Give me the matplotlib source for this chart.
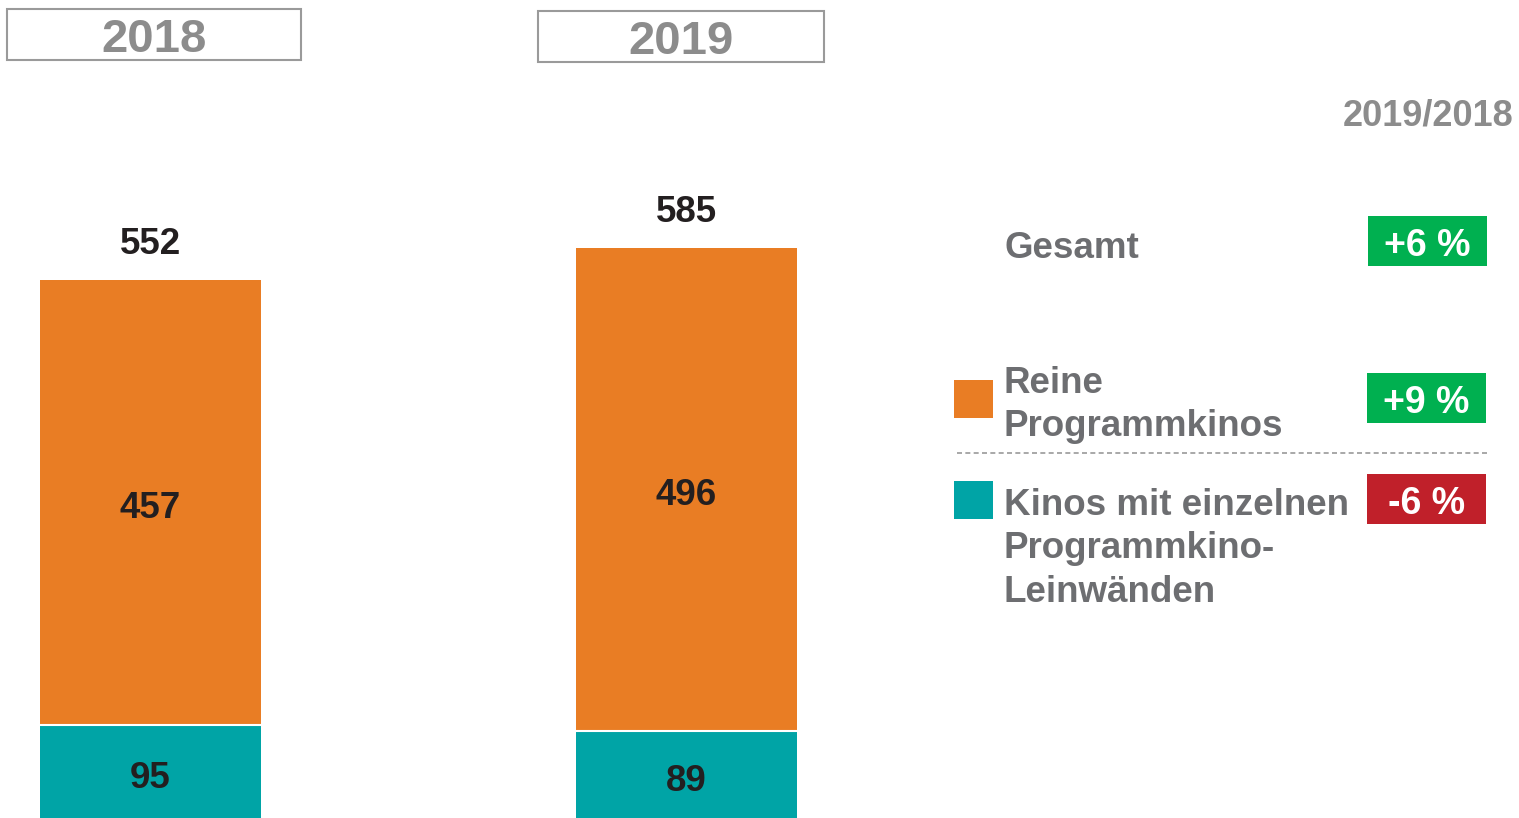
import matplotlib
matplotlib.use("Agg")
import matplotlib.pyplot as plt
from matplotlib.patches import Rectangle
from matplotlib.lines import Line2D

plt.rcParams['font.family'] = ['Liberation Sans', 'DejaVu Sans']
plt.rcParams['font.weight'] = 'bold'

years = ["2018", "2019"]
reine = [457, 496]
einzelne = [95, 89]
totals = [552, 585]
change_label = "2019/2018"
rows = ["Gesamt", "Reine\nProgrammkinos", "Kinos mit einzelnen\nProgrammkino-\nLeinwänden"]
changes = ["+6 %", "+9 %", "-6 %"]

ORANGE = "#e97d24"
TEAL = "#00a4a6"
GREEN = "#00b050"
RED = "#c0202a"
GRAY_TXT = "#6d6e71"
YEAR_GRAY = "#8c8c8c"
DARK = "#231f20"

W, H = 1519, 818
fig = plt.figure(figsize=(W / 100, H / 100), dpi=100)
ax = fig.add_axes([0, 0, 1, 1])
ax.set_axis_off()

x = [0, 1]
bw = 0.412
ax.bar(x, einzelne, width=bw, color=TEAL, edgecolor="none")
ax.bar(x, reine, width=bw, bottom=einzelne, color=ORANGE, edgecolor="none")
# thin white separator between the stacked segments
ax.bar(x, [0.0, 0.0], width=bw, bottom=einzelne, color="none", edgecolor="white", linewidth=1.5)
ax.set_xlim(-0.281, 2.553)
ax.set_ylim(0, 840)

for xi, r, e, t in zip(x, reine, einzelne, totals):
    ax.annotate(str(r), (xi, e + r / 2), xytext=(0, -6), textcoords="offset pixels",
                ha="center", va="center", fontsize=26.5, color=DARK, fontweight="bold")
    ax.annotate(str(e), (xi, e / 2), xytext=(0, -7), textcoords="offset pixels",
                ha="center", va="center", fontsize=26.5, color=DARK, fontweight="bold")
    ax.annotate(str(t), (xi, t), xytext=(0, 36), textcoords="offset pixels",
                ha="center", va="center", fontsize=26.5, color=DARK, fontweight="bold")


def fx(px):
    return px / W


def fy(py):
    return 1 - py / H


# year boxes
year_boxes = [(7, 9, 301, 60), (538, 11, 824, 62)]
for yr, (x0, y0, x1, y1) in zip(years, year_boxes):
    fig.patches.append(Rectangle((fx(x0), fy(y1)), fx(x1 - x0), (y1 - y0) / H,
                                 transform=fig.transFigure, facecolor="white",
                                 edgecolor="#9a9a9a", linewidth=1.5))
    fig.text(fx((x0 + x1) / 2), fy((y0 + y1) / 2 + 6), yr, ha="center", va="center",
             fontsize=34, color=YEAR_GRAY, fontweight="bold")

fig.text(fx(1514), fy(116), change_label, ha="right", va="center", fontsize=26,
         color=YEAR_GRAY, fontweight="bold")

# row labels
fig.text(fx(1004), fy(248), rows[0], ha="left", va="center", fontsize=26.5,
         color=GRAY_TXT, fontweight="bold")
fig.text(fx(1004), fy(405), rows[1], ha="left", va="center", fontsize=26.5,
         color=GRAY_TXT, fontweight="bold", linespacing=1.31)
fig.text(fx(1004), fy(549), rows[2], ha="left", va="center", fontsize=26.5,
         color=GRAY_TXT, fontweight="bold", linespacing=1.33)

# legend squares
for (y0, c) in [(380, ORANGE), (481, TEAL)]:
    fig.patches.append(Rectangle((fx(954), fy(y0 + 38)), fx(39), 38 / H,
                                 transform=fig.transFigure, facecolor=c, edgecolor="none"))

# badges
badges = [(1368, 216, GREEN), (1367, 373, GREEN), (1367, 474, RED)]
for lbl, (bx, by, c) in zip(changes, badges):
    fig.patches.append(Rectangle((fx(bx), fy(by + 50)), fx(119), 50 / H,
                                 transform=fig.transFigure, facecolor=c, edgecolor="none"))
    fig.text(fx(bx + 59.5), fy(by + 30), lbl, ha="center", va="center", fontsize=27,
             color="white", fontweight="bold")

fig.lines.append(Line2D([fx(957), fx(1487)], [fy(453), fy(453)], transform=fig.transFigure,
                        color="#9a9a9a", linewidth=1.2, linestyle=(0, (3, 2))))

fig.savefig("out.png", dpi=100, facecolor="white")
